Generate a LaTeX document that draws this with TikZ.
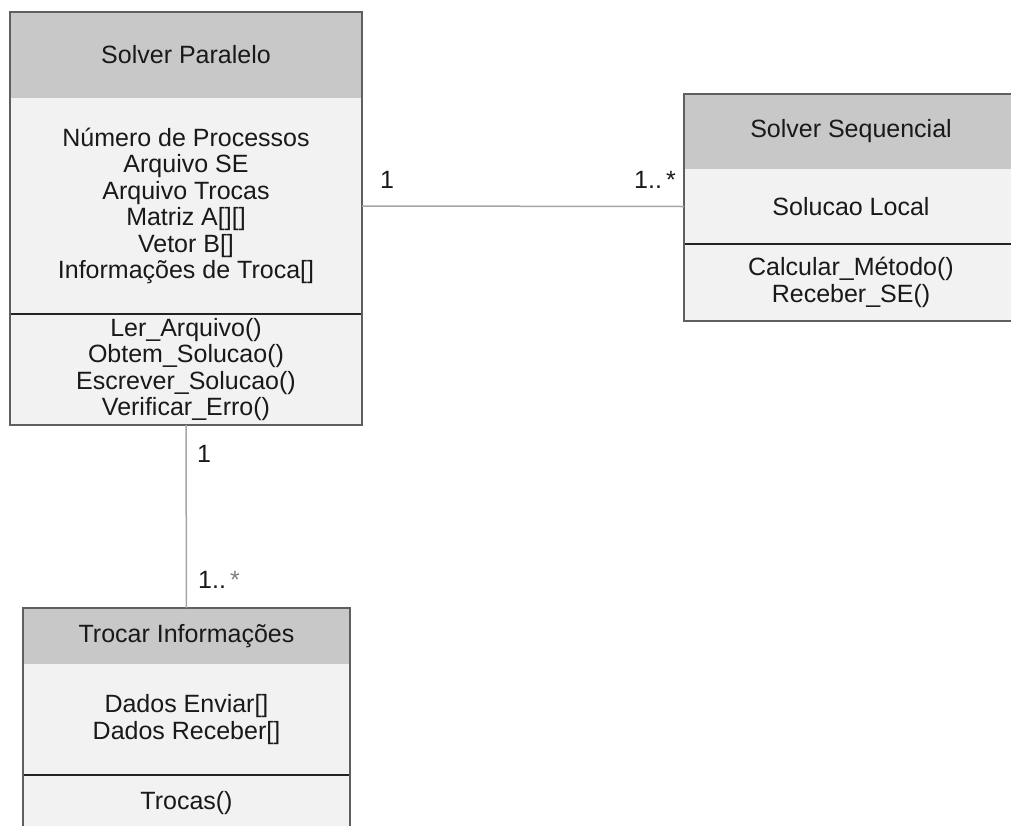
\documentclass[tikz,border=0pt]{standalone}
\usepackage{fontspec}
\setmainfont{Liberation Sans}
\definecolor{headfill}{RGB}{200,200,200}
\definecolor{bodyfill}{RGB}{242,242,242}
\definecolor{frame}{RGB}{95,95,95}
\definecolor{divider}{RGB}{35,35,35}
\definecolor{link}{RGB}{165,165,165}
\definecolor{ink}{RGB}{25,25,25}
\begin{document}
\begin{tikzpicture}[x=1pt,y=-1pt,
  every node/.style={font=\fontsize{25}{26.5}\selectfont, text=ink},
  section/.style={inner sep=0pt, outer sep=0pt, align=center, anchor=north},
  headsec/.style={section, fill=headfill},
  bodysec/.style={section, fill=bodyfill},
  outline/.style={draw=frame, line width=1.3pt},
  split/.style={draw=divider, line width=1.2pt},
  assoc/.style={draw=link, line width=1.5pt},
  mult/.style={anchor=base west, inner sep=0pt}]
\useasboundingbox (0,0) rectangle (1011,825);
\clip (0,0) rectangle (1011,825);

% Solver Paralelo
\node[headsec, minimum width=352pt, minimum height=86pt] (sp-head) at (186,12) {Solver Paralelo};
\node[bodysec, minimum width=352pt, minimum height=216pt] (sp-attr) at (sp-head.south)
  {Número de Processos\\Arquivo SE\\Arquivo Trocas\\Matriz A[][]\\Vetor B[]\\Informações de Troca[]};
\node[bodysec, minimum width=352pt, minimum height=111pt] (sp-meth) at (sp-attr.south)
  {Ler\_Arquivo()\\Obtem\_Solucao()\\Escrever\_Solucao()\\Verificar\_Erro()};
\draw[split] (sp-attr.south west) -- (sp-attr.south east);
\draw[outline] (sp-head.north west) rectangle (sp-meth.south east);

% Solver Sequencial (runs past the right edge)
\node[headsec, minimum width=334pt, minimum height=75pt] (ss-head) at (851,94) {Solver Sequencial};
\node[bodysec, minimum width=334pt, minimum height=75pt] (ss-attr) at (ss-head.south) {Solucao Local};
\node[bodysec, minimum width=334pt, minimum height=77pt] (ss-meth) at (ss-attr.south)
  {Calcular\_Método()\\Receber\_SE()};
\draw[split] (ss-attr.south west) -- (ss-attr.south east);
\draw[outline] (ss-head.north west) rectangle (ss-meth.south east);

% Trocar Informacoes (runs past the bottom edge)
\node[headsec, minimum width=327pt, minimum height=56pt] (tr-head) at (186.5,608) {Trocar Informações};
\node[bodysec, minimum width=327pt, minimum height=111pt] (tr-attr) at (tr-head.south)
  {Dados Enviar[]\\Dados Receber[]};
\node[bodysec, minimum width=327pt, minimum height=57pt] (tr-meth) at (tr-attr.south) {Trocas()};
\draw[split] (tr-attr.south west) -- (tr-attr.south east);
\draw[outline] (tr-head.north west) rectangle (tr-meth.south east);

% Associations
\draw[assoc] (sp-attr.east) -- (ss-attr.west);
\draw[assoc] (sp-meth.south) -- (tr-head.north);

% Multiplicities
\node[mult] (m1) at (380,188) {1};
\node[mult] (m2) at (634,188) {1..\,*};
\node[mult] (m3) at (197,462) {1};
\node[mult] (m4) at (198,588) {1..\,\textcolor{gray}{*}};
\end{tikzpicture}
\end{document}
